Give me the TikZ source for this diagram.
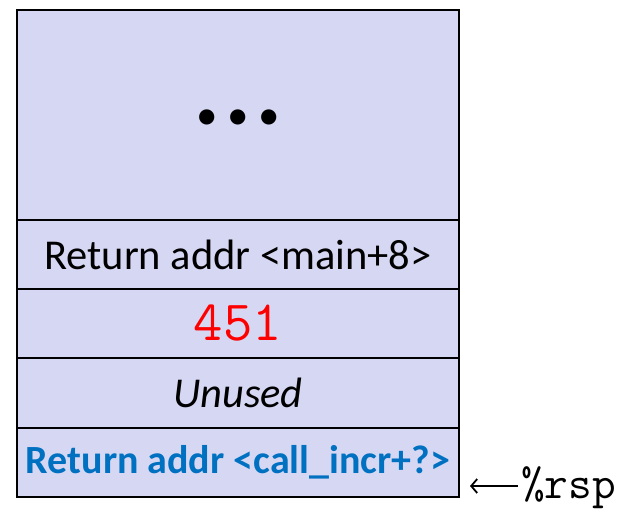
\documentclass[tikz,border=0pt]{standalone}
\usepackage{fontspec}
\setmainfont{Carlito}
\usetikzlibrary{positioning,arrows.meta}
\definecolor{stackfill}{RGB}{214,215,243}
\definecolor{retblue}{RGB}{0,112,192}
\definecolor{valred}{RGB}{255,0,0}

\begin{document}
\begin{tikzpicture}[x=1pt,y=1pt,
   cell/.style={draw,fill=stackfill,line width=2pt,outer sep=0pt,inner sep=0pt,
     minimum width=442pt,minimum height=69pt,
     font=\fontsize{42.5}{50}\selectfont},
   arr/.style={-{Straight Barb[length=6pt,width=14pt]},line width=1.8pt}]
\useasboundingbox (0,0) rectangle (619,515);
\node[cell,minimum height=210pt] (dots) at (238,400) {\raisebox{-15pt}[0pt][0pt]{\fontsize{43}{50}\selectfont • • •}};
\node[cell,below=0pt of dots] (ret) {Return addr <main+8>};
\node[cell,below=0pt of ret] (val) {\fontsize{57}{64}\selectfont\ttfamily\color{valred}451};
\node[cell,below=0pt of val,minimum height=70pt] (unused) {\itshape Unused};
\node[cell,below=0pt of unused,text=retblue] (retcall) {\fontsize{40}{48}\selectfont\bfseries Return addr <call\_incr+?>};
\node[anchor=base west,inner sep=0pt,font=\fontsize{46}{54}\selectfont\ttfamily] (rsp) at (521,17) {\%rsp};
\coordinate (top) at (470,29);
\draw[arr] (rsp.west |- top) ++(-3,0) -- (top);
\end{tikzpicture}
\end{document}
